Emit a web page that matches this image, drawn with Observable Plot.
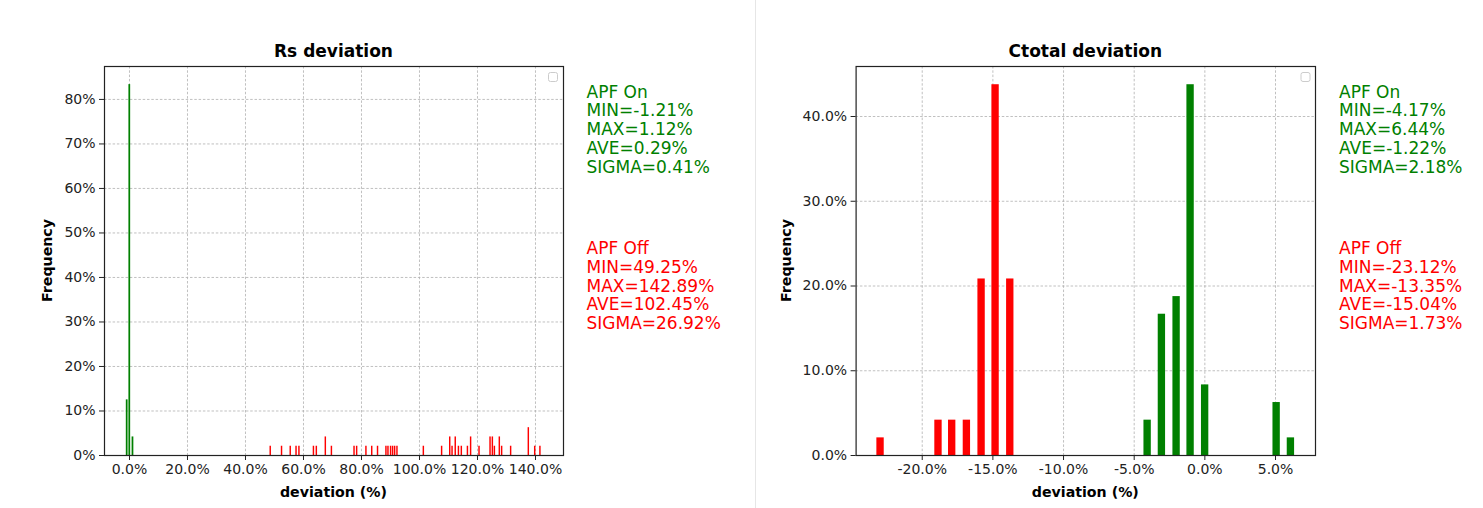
<!DOCTYPE html>
<html>
<head>
<meta charset="utf-8">
<script src="https://cdn.jsdelivr.net/npm/d3@7"></script>
<script src="https://cdn.jsdelivr.net/npm/@observablehq/plot@0.6"></script>
<style>
  html, body { margin: 0; padding: 0; background: #fff; }
  #root { position: relative; width: 1483px; height: 508px; overflow: hidden; font-family: "DejaVu Sans", sans-serif; }
  #left, #right, #overlay { position: absolute; top: 0; }
  #left { left: 0; }
  #right { left: 755px; }
  #overlay { left: 0; pointer-events: none; }
</style>
</head>
<body>
<div id="root">
  <div id="left"></div>
  <div id="right"></div>
  <svg id="overlay" width="1483" height="508"></svg>
</div>
<script>
// ---------- data (percent) ----------
const rsOnDev  = [-0.8, 0.1, 1.2];
const rsOnFreq = [12.5, 83.33, 4.17];

const rsOffDev  = [48.7, 52.6, 55.6, 57.6, 58.6, 63.6, 64.6, 67.7, 69.8,
                   77.6, 78.5, 81.7, 83.7, 85.7, 88.6, 89.3, 90.2, 90.9, 91.6, 92.4, 101.5, 107.8,
                   110.6, 111.4, 112.5, 113.6, 114.6, 116.7, 117.8, 120.7, 124.5, 125.3, 126.0,
                   127.7, 128.5, 131.6, 137.7, 139.9, 141.7];
const rsOffFreq = [2.08, 2.08, 2.08, 2.08, 2.08, 2.08, 2.08, 4.17, 2.08,
                   2.08, 2.08, 2.08, 2.08, 2.08, 2.08, 2.08, 2.08, 2.08, 2.08, 2.08, 2.08, 2.08,
                   4.17, 2.08, 4.17, 2.08, 2.08, 2.08, 4.17, 2.08, 4.17, 4.17, 2.08,
                   4.17, 2.08, 2.08, 6.25, 2.08, 2.08];

const ctOnDev  = [-4.05, -3.04, -2.00, -1.01, 0.02, 5.08, 6.09];
const ctOnFreq = [4.17, 16.67, 18.75, 43.75, 8.33, 6.25, 2.08];

const ctOffDev  = [-22.95, -18.85, -17.88, -16.84, -15.80, -14.81, -13.77];
const ctOffFreq = [2.08, 4.17, 4.17, 4.17, 20.83, 43.75, 20.83];

const rsXTicks = [0, 20, 40, 60, 80, 100, 120, 140];
const rsYTicks = [0, 10, 20, 30, 40, 50, 60, 70, 80];
const ctXTicks = [-20, -15, -10, -5, 0, 5];
const ctYTicks = [0, 10, 20, 30, 40];

const titles = ["Rs deviation", "Ctotal deviation"];
const xLabel = "deviation (%)";
const yLabel = "Frequency";

const rsOnText  = ["APF On", "MIN=-1.21%", "MAX=1.12%", "AVE=0.29%", "SIGMA=0.41%"];
const rsOffText = ["APF Off", "MIN=49.25%", "MAX=142.89%", "AVE=102.45%", "SIGMA=26.92%"];
const ctOnText  = ["APF On", "MIN=-4.17%", "MAX=6.44%", "AVE=-1.22%", "SIGMA=2.18%"];
const ctOffText = ["APF Off", "MIN=-23.12%", "MAX=-13.35%", "AVE=-15.04%", "SIGMA=1.73%"];

const GREEN = "#008000", RED = "#ff0000";

// ---------- chart builder ----------
function chart({width, mL, mR, xDomain, yDomain, xTicks, yTicks, xFmt, yFmt, series}) {
  const gridStyle = {stroke: "#b0b0b0", strokeOpacity: 1, strokeDasharray: "2.5,1.8", strokeWidth: 0.8};
  const barMarks = series.map(s => {
    const rows = s.dev.map((d, i) => ({dev: d, freq: s.freq[i]}));
    return Plot.rectY(rows, {x1: d => d.dev - s.w / 2, x2: d => d.dev + s.w / 2, y: "freq", fill: s.color});
  });
  return Plot.plot({
    width, height: 508,
    marginLeft: mL, marginRight: mR, marginTop: 66, marginBottom: 53,
    style: {fontFamily: "DejaVu Sans, sans-serif", fontSize: "14px", color: "#222", background: "transparent", overflow: "visible"},
    x: {domain: xDomain},
    y: {domain: yDomain},
    marks: [
      Plot.gridX(xTicks, gridStyle),
      Plot.gridY(yTicks, gridStyle),
      ...barMarks,
      Plot.frame({stroke: "#222", strokeWidth: 1.2}),
      Plot.axisX(xTicks, {tickFormat: xFmt, tickSize: 5, tickPadding: 4, label: null, fontSize: 14}),
      Plot.axisY(yTicks, {tickFormat: yFmt, tickSize: 5, tickPadding: 4, label: null, fontSize: 14})
    ]
  });
}

// Left: frame x 104..563, 0% at x=129, 2.9 px per 1%
const left = chart({
  width: 740, mL: 104, mR: 177,
  xDomain: [-8.62, 149.66], yDomain: [0, 87.4],
  xTicks: rsXTicks, yTicks: rsYTicks,
  xFmt: d => d.toFixed(1) + "%", yFmt: d => d + "%",
  series: [
    {dev: rsOffDev, freq: rsOffFreq, color: RED, w: 0.5},
    {dev: rsOnDev, freq: rsOnFreq, color: GREEN, w: 0.6}
  ]
});
document.getElementById("left").appendChild(left);

// Right: SVG starts at 755, frame x 855.6..1315, 0% at 1204.3, 14.13 px per 1%
const right = chart({
  width: 728, mL: 100.6, mR: 168,
  xDomain: [-24.68, 7.83], yDomain: [0, 45.9],
  xTicks: ctXTicks, yTicks: ctYTicks,
  xFmt: d => d.toFixed(1) + "%", yFmt: d => d.toFixed(1) + "%",
  series: [
    {dev: ctOffDev, freq: ctOffFreq, color: RED, w: 0.52},
    {dev: ctOnDev, freq: ctOnFreq, color: GREEN, w: 0.52}
  ]
});
document.getElementById("right").appendChild(right);

// ---------- overlay texts ----------
const ov = d3.select("#overlay");
ov.append("line").attr("x1", 755.5).attr("x2", 755.5).attr("y1", 0).attr("y2", 508)
  .attr("stroke", "#e6e6e6").attr("stroke-width", 1);

const panels = [
  {cx: 333.5, ylabX: 52, statX: 586.5, on: rsOnText, off: rsOffText, legX: 548.5},
  {cx: 1085.3, ylabX: 791, statX: 1339, on: ctOnText, off: ctOffText, legX: 1301}
];
panels.forEach((p, k) => {
  ov.append("text").attr("x", p.cx).attr("y", 56.5).attr("text-anchor", "middle")
    .attr("font-size", 17).attr("font-weight", "bold").attr("fill", "#000").text(titles[k]);
  ov.append("text").attr("x", p.cx).attr("y", 497).attr("text-anchor", "middle")
    .attr("font-size", 14.2).attr("font-weight", "bold").attr("fill", "#000").text(xLabel);
  ov.append("text").attr("transform", `translate(${p.ylabX},260.5) rotate(-90)`).attr("text-anchor", "middle")
    .attr("font-size", 14.2).attr("font-weight", "bold").attr("fill", "#000").text(yLabel);
  p.on.forEach((t, i) => ov.append("text").attr("x", p.statX).attr("y", 97.7 + i * 18.7)
    .attr("font-size", 17).attr("fill", GREEN).text(t));
  p.off.forEach((t, i) => ov.append("text").attr("x", p.statX).attr("y", 254.3 + i * 18.7)
    .attr("font-size", 17).attr("fill", RED).text(t));
  ov.append("rect").attr("x", p.legX).attr("y", 72.5).attr("width", 9).attr("height", 9).attr("rx", 2)
    .attr("fill", "#fff").attr("stroke", "#cccccc").attr("stroke-width", 1);
});
ov.selectAll("text").attr("font-family", "DejaVu Sans, sans-serif");
</script>
</body>
</html>
